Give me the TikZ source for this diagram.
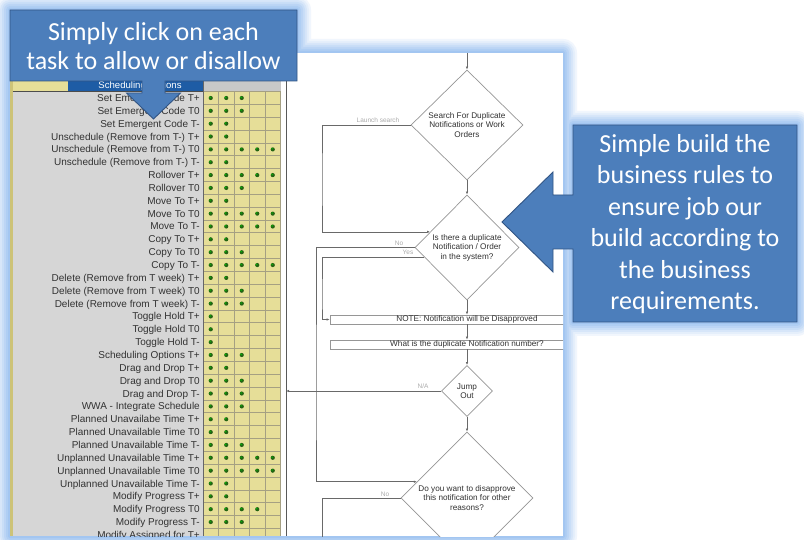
\documentclass[tikz,border=0pt]{standalone}
\usepackage{fontspec}
\setmainfont{Liberation Sans}
\newfontfamily\callfont{Carlito}
\usetikzlibrary{shapes.geometric,arrows.meta,calc}

\definecolor{glowc}{RGB}{155,193,240}
\definecolor{callfill}{RGB}{76,126,187}
\definecolor{callline}{RGB}{50,85,132}
\definecolor{sheetgray}{RGB}{214,214,214}
\definecolor{hdrgray}{RGB}{200,200,200}
\definecolor{cellyel}{RGB}{230,222,152}
\definecolor{stripe}{RGB}{205,195,120}
\definecolor{gridc}{RGB}{165,160,130}
\definecolor{dotg}{RGB}{35,100,20}
\definecolor{hdrblue}{RGB}{30,92,165}
\definecolor{flowline}{RGB}{105,105,105}
\definecolor{shapeline}{RGB}{150,150,150}
\definecolor{lbl}{RGB}{170,170,170}
\definecolor{txt}{RGB}{50,50,50}

\begin{document}
\begin{tikzpicture}[x=1pt,y=-1pt,
  fl/.style={draw=flowline,line width=0.6pt},
  arr/.style={fl,-{Latex[length=3pt,width=2.4pt]}},
  dia/.style={shape=diamond,draw=shapeline,line width=0.7pt,fill=white,inner sep=0pt,align=center,font=\fontsize{8.2}{9.4}\selectfont,text=txt},
  nbox/.style={draw=shapeline,line width=0.6pt,fill=white,minimum width=274pt,minimum height=9pt,inner sep=0pt,font=\fontsize{8.2}{9}\selectfont,text=txt},
  elbl/.style={font=\fontsize{6.5}{7}\selectfont,text=lbl,inner sep=0.5pt},
  rowlbl/.style={anchor=base east,font=\fontsize{10}{10}\selectfont,text=txt,inner sep=0pt},
  callout/.style={fill=callfill,draw=callline,line width=0.9pt},
  calltext/.style={text=white,align=center,inner sep=0pt}
]
\useasboundingbox (0,0) rectangle (804,540);
\fill[white] (0,0) rectangle (804,540);

% glow layers
\foreach \d/\p in {14/14,12/26,10/40,8/54,6/67,4/80,2/92,0/100}{
  \fill[glowc!\p!white, rounded corners=\d pt] (10-\d,53-\d) rectangle (563+\d,536+\d);
  \fill[glowc!\p!white, rounded corners=\d pt] (10-\d,10-\d) rectangle (297+\d,81+\d);
  \fill[glowc!\p!white, rounded corners=\d pt] (573-\d,125-\d) rectangle (797+\d,322+\d);
}

% screenshot
\fill[white] (10,53) rectangle (563,536);
\begin{scope}
\clip (10,53) rectangle (563,536);
% spreadsheet
\fill[sheetgray] (12,53) rectangle (203,536);
\fill[stripe] (10,53) rectangle (12.5,536);
\fill[cellyel] (12.5,80) rectangle (68,91.5);
\fill[hdrblue] (68,80) rectangle (203,91.5);
\node[text=white,font=\fontsize{9.6}{10}\selectfont,inner sep=0pt] (hdr) at (140,86) {Scheduling Options};
\fill[hdrgray] (203,80) rectangle (280.5,91.5);
\fill[cellyel] (203,91.5) rectangle (280.5,536);
\foreach \i in {0,...,35}{
  \draw[gridc,line width=0.7pt] (203,91.5+12.85*\i) -- (280.5,91.5+12.85*\i);
}
\foreach \k in {0,...,5}{
  \draw[gridc,line width=0.7pt] (203+15.5*\k,91.5) -- (203+15.5*\k,536);
}
\draw[black!60,line width=0.9pt] (203,80) -- (203,536);
\draw[black!70,line width=1pt] (12.5,91.5) -- (203,91.5);
\foreach \lab/\n [count=\i] in {
  Set Emergent Code T+/3, Set Emergent Code T0/3, Set Emergent Code T-/2,
  Unschedule (Remove from T-) T+/2, Unschedule (Remove from T-) T0/5, Unschedule (Remove from T-) T-/2,
  Rollover T+/5, Rollover T0/3, Move To T+/2, Move To T0/5, Move To T-/5,
  Copy To T+/2, Copy To T0/3, Copy To T-/5,
  Delete (Remove from T week) T+/2, Delete (Remove from T week) T0/3, Delete (Remove from T week) T-/3,
  Toggle Hold T+/1, Toggle Hold T0/1, Toggle Hold T-/1, Scheduling Options T+/3,
  Drag and Drop T+/2, Drag and Drop T0/3, Drag and Drop T-/3, WWA - Integrate Schedule/3,
  Planned Unavailabe Time T+/2, Planned Unavailable Time T0/2, Planned Unavailable Time T-/3,
  Unplanned Unavailable Time T+/5, Unplanned Unavailable Time T0/5, Unplanned Unavailable Time T-/2,
  Modify Progress T+/2, Modify Progress T0/4, Modify Progress T-/3}{
  \pgfmathsetmacro\yy{98+(\i-1)*12.85}
  \node[rowlbl] (r\i) at (200,\yy+3.5) {\lab};
  \foreach \k in {1,...,\n}{
    \fill[dotg] (203+15.5*\k-7.75,\yy) circle[radius=2.1pt];
    \fill[green!75!black] (203+15.5*\k-8.4,\yy-0.6) circle[radius=0.8pt];
  }
}
\node[rowlbl] (r35) at (200,98+34*12.85+3.5) {Modify Assigned for T+};

% flowchart
\draw[black!65,line width=0.8pt] (286,53) -- (286,536);
\coordinate (top) at (467,53);
\node[dia, minimum width=112pt, minimum height=110pt] (d1) at (467,125) {Search For Duplicate\\Notifications or Work\\Orders};
\draw[arr] (top) -- (d1.north);
\node[dia, minimum width=104pt, minimum height=105pt] (d2) at (467,247.5) {Is there a duplicate\\Notification / Order\\in the system?};
\draw[arr] (d1.south) -- (d2.north);
\node[nbox] (note) at (467,319.5) {NOTE: Notification will be Disapproved};
\draw[arr] (d2.south) -- (note.north);
\node[nbox] (num) at (467,344.5) {What is the duplicate Notification number?};
\draw[arr] (note.south) -- (num.north);
\node[dia, minimum width=51pt, minimum height=51pt] (jump) at (467,391) {Jump\\Out};
\draw[arr] (num.south) -- (jump.north);
\node[dia, minimum width=132pt, minimum height=132pt] (d4) at (467,498) {Do you want to disapprove\\this notification for other\\reasons?};
\draw[arr] (jump.south) -- (d4.north);

\coordinate (lsx) at (322,180);
\draw[arr] (d1.west) -| (lsx) |- (d2.157);
\node[elbl] (lsl) at (378,120.5) {Launch search};

\coordinate (nox) at (316,400);
\draw[arr] (d2.west) -| (nox) |- (d4.162);
\node[elbl] (nol) at (399,243) {No};

\coordinate (yesx) at (322,300);
\draw[arr] (d2.193) -| (yesx) |- (note.west);
\node[elbl] (yesl) at (408,252.5) {Yes};

\coordinate (vl) at (286,300);
\draw[arr] (jump.west) -- (jump.west -| vl);
\node[elbl] (nal) at (423,386) {N/A};

\coordinate (bot) at (322,545);
\draw[fl] (d4.west) -| (bot);
\node[elbl] (no2) at (385,494) {No};
\end{scope}

% callouts
\draw[callout] (10,10) -- (297,10) -- (297,81) -- (165,81) -- (165,93) -- (180.5,93) -- (153.5,119) -- (126.5,93) -- (142,93) -- (142,81) -- (10,81) -- cycle;
\node[calltext,font=\callfont\fontsize{26}{28.5}\selectfont] (lct) at (153.5,46) {Simply click on each\\task to allow or disallow};

\draw[callout] (573,125) -- (797,125) -- (797,322) -- (573,322) -- (573,249) -- (553,249) -- (553,272) -- (502,222) -- (553,172) -- (553,195) -- (573,195) -- cycle;
\node[calltext,font=\callfont\fontsize{26}{31.5}\selectfont] (rct) at (685,224) {Simple build the\\business rules to\\ensure job our\\build according to\\the business\\requirements.};
\end{tikzpicture}
\end{document}
